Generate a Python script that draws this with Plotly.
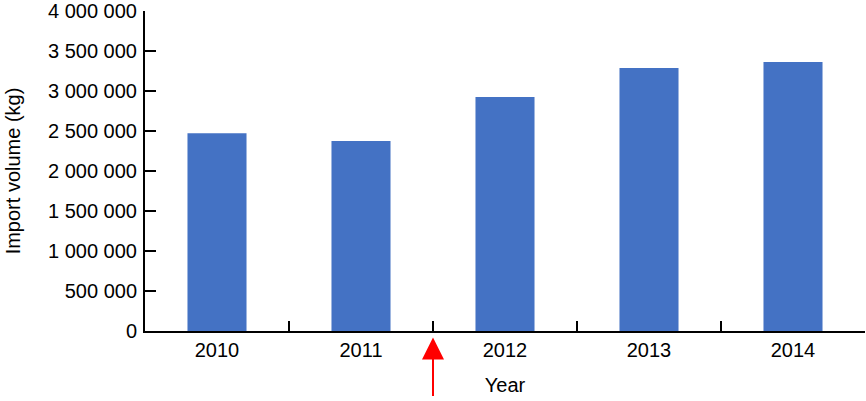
import plotly.graph_objects as go

years = ["2010", "2011", "2012", "2013", "2014"]
import_volume = [2471000, 2375000, 2925000, 3287000, 3362000]
y_tickvals = [0, 500000, 1000000, 1500000, 2000000, 2500000, 3000000, 3500000, 4000000]
y_ticktext = ["0", "500 000", "1 000 000", "1 500 000", "2 000 000",
              "2 500 000", "3 000 000", "3 500 000", "4 000 000"]

fig = go.Figure()
fig.add_trace(go.Bar(x=years, y=import_volume, marker_color="#4472C4",
                     marker_line_width=0, width=0.41))

# red arrow marking the break between 2011 and 2012
fig.add_annotation(x=1.5, y=-0.02, xref="x", yref="paper", text="",
                   showarrow=True, ax=0, ay=60, arrowcolor="#FF0000",
                   arrowwidth=2, arrowhead=2, arrowsize=2.2)

fig.update_layout(
    width=866, height=401,
    margin=dict(l=145, r=1, t=11, b=70),
    plot_bgcolor="white", paper_bgcolor="white",
    font=dict(family="Liberation Sans, Arial", size=20, color="black"),
    showlegend=False,
    bargap=0.59,
)
fig.update_xaxes(
    title_text="Year", title_font_size=20, title_standoff=18,
    tickfont=dict(size=20), automargin=False,
    showline=True, linecolor="black", linewidth=2,
    ticks="inside", tickson="boundaries", ticklen=10, tickwidth=2, tickcolor="black",
    showgrid=False,
)
fig.update_yaxes(
    title_text="Import volume (kg)", title_font_size=20, title_standoff=22,
    tickfont=dict(size=20), automargin=False, ticklabeloverflow="allow",
    range=[0, 4000000], tickvals=y_tickvals, ticktext=y_ticktext,
    showline=True, linecolor="black", linewidth=2,
    ticks="inside", ticklen=11, tickwidth=2, tickcolor="black",
    ticklabelstandoff=2, showgrid=False, zeroline=False,
)

# drop the default 8px body margin so the figure fills the window
fig.write_html("out.html", config={"displayModeBar": False},
               post_script="document.body.style.margin = '0';")
